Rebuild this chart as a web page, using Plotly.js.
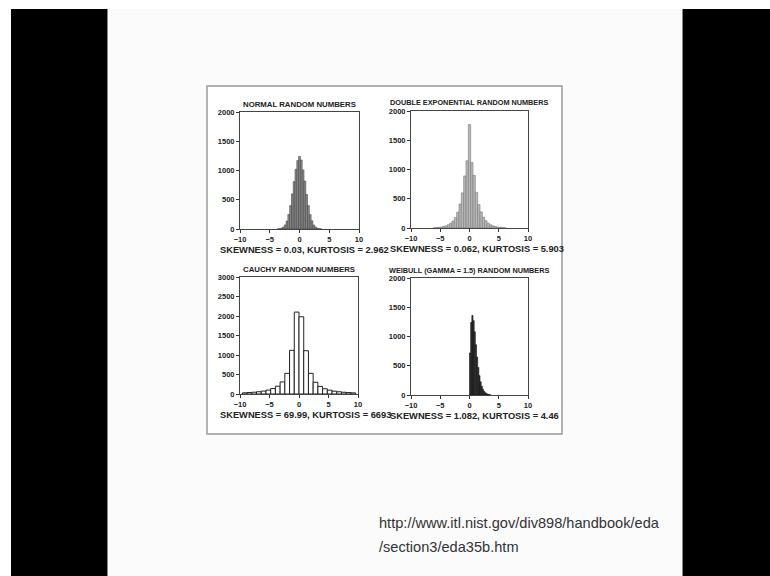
<!DOCTYPE html>
<html>
<head>
<meta charset="utf-8">
<script src="https://cdn.plot.ly/plotly-3.0.1.min.js"></script>
<style>html,body{margin:0;padding:0;background:#fff;}#chart{width:770px;height:576px;}</style>
</head>
<body>
<div id="chart"></div>
<script>
// ---- data ----
const panelTitles = ["NORMAL RANDOM NUMBERS", "DOUBLE EXPONENTIAL RANDOM NUMBERS",
                     "CAUCHY RANDOM NUMBERS", "WEIBULL (GAMMA = 1.5) RANDOM NUMBERS"];
const panelStats = ["SKEWNESS = 0.03, KURTOSIS = 2.962", "SKEWNESS = 0.062, KURTOSIS = 5.903",
                    "SKEWNESS = 69.99, KURTOSIS = 6693", "SKEWNESS = 1.082, KURTOSIS = 4.46"];
const sourceLines = ["http://www.itl.nist.gov/div898/handbook/eda", "/section3/eda35b.htm"];

const normalX = [-3.6,-3.3,-3.0,-2.7,-2.4,-2.1,-1.8,-1.5,-1.2,-0.9,-0.6,-0.3,0,0.3,0.6,0.9,1.2,1.5,1.8,2.1,2.4,2.7,3.0,3.3,3.6];
const normalY = [2,5,14,32,70,135,250,400,600,810,1020,1170,1240,1180,1010,820,590,400,245,140,68,33,14,6,2];

const dexpX = [-6.0,-5.6,-5.2,-4.8,-4.4,-4.0,-3.6,-3.2,-2.8,-2.4,-2.0,-1.6,-1.2,-0.8,-0.4,0,0.4,0.8,1.2,1.6,2.0,2.4,2.8,3.2,3.6,4.0,4.4,4.8,5.2,5.6,6.0];
const dexpY = [5,8,11,17,25,37,55,82,120,180,270,410,600,890,1150,1770,1120,900,610,400,275,185,125,80,56,38,26,18,12,8,5];

const cauchyX = [-9.2,-8.4,-7.6,-6.8,-6.0,-5.2,-4.4,-3.6,-2.8,-2.0,-1.2,-0.4,0.4,1.2,2.0,2.8,3.6,4.4,5.2,6.0,6.8,7.6,8.4,9.2];
const cauchyY = [30,38,46,58,75,100,140,200,310,530,1120,2100,1980,1110,530,300,195,135,98,72,57,45,37,29];

const weibullX = [0.1,0.3,0.5,0.7,0.9,1.1,1.3,1.5,1.7,1.9,2.1,2.3,2.5,2.7,2.9,3.1,3.3,3.5];
const weibullY = [720,1240,1360,1270,1080,860,650,470,330,225,150,98,62,40,25,15,9,5];

// ---- layout helpers (pixel -> paper) ----
const W = 770, H = 576;
const px = x => x / W;
const py = y => 1 - y / H;

const boxes = [
  {x0:240, x1:359, y0:112, y1:229},
  {x0:411, x1:528, y0:111, y1:228},
  {x0:240, x1:358, y0:277, y1:394},
  {x0:411, x1:528, y0:278, y1:395}
];

const seriesX = [normalX, dexpX, cauchyX, weibullX];
const seriesY = [normalY, dexpY, cauchyY, weibullY];
const widths = [0.3, 0.4, 0.8, 0.2];
const fills = ['#8e8e8e', '#b8b8b8', '#ffffff', '#3a3a3a'];
const edges = ['#444444', '#7a7a7a', '#222222', '#111111'];
const yMax = [2000, 2000, 3000, 2000];

const traces = [];
const layout = {
  width: W, height: H,
  margin: {l:0, r:0, t:0, b:0},
  paper_bgcolor: '#fbfbfb',
  plot_bgcolor: '#ffffff',
  showlegend: false,
  bargap: 0,
  shapes: [],
  annotations: []
};

const fam = 'Liberation Sans, Arial, sans-serif';
const tickFont = {family: fam, size: 7.5, color: '#222', weight: 700};

for (let i = 0; i < 4; i++) {
  const b = boxes[i];
  const n = i === 0 ? '' : String(i + 1);
  traces.push({
    type: 'bar', x: seriesX[i], y: seriesY[i], width: widths[i],
    xaxis: 'x' + n, yaxis: 'y' + n,
    marker: {color: fills[i], line: {color: edges[i], width: i === 2 ? 1 : 0.6}},
    hoverinfo: 'skip'
  });
  layout['xaxis' + n] = {
    domain: [px(b.x0), px(b.x1)], anchor: 'y' + n,
    range: [-10, 10], tickvals: [-10, -5, 0, 5, 10],
    ticks: 'outside', ticklen: 3, tickcolor: '#333',
    showline: true, linecolor: '#444', linewidth: 1, mirror: true,
    showgrid: false, zeroline: false, tickfont: tickFont, fixedrange: true
  };
  const yt = [];
  for (let v = 0; v <= yMax[i]; v += 500) yt.push(v);
  layout['yaxis' + n] = {
    domain: [py(b.y1), py(b.y0)], anchor: 'x' + n,
    range: [0, yMax[i]], tickvals: yt,
    ticks: 'outside', ticklen: 3, tickcolor: '#333',
    showline: true, linecolor: '#444', linewidth: 1, mirror: true,
    showgrid: false, zeroline: false, tickfont: tickFont, fixedrange: true
  };
  layout.annotations.push({
    xref: 'paper', yref: 'paper', x: px((b.x0 + b.x1) / 2), y: py(b.y0 - 8),
    text: panelTitles[i], showarrow: false, xanchor: 'center', yanchor: 'middle',
    font: {family: fam, size: i % 2 === 0 ? 7.8 : 7.3, color: '#222', weight: 700}
  });
  layout.annotations.push({
    xref: 'paper', yref: 'paper', x: px(i % 2 === 0 ? 218 : 388), y: py(b.y1 + 21),
    text: panelStats[i], showarrow: false, xanchor: 'left', yanchor: 'middle',
    font: {family: fam, size: 9.3, color: '#222', weight: 700}
  });
}

// slide frame: black side bars, top white strip
layout.shapes.push({type:'rect', xref:'paper', yref:'paper', x0:px(0), x1:px(W), y0:py(9), y1:1, fillcolor:'#ffffff', line:{width:0}, layer:'below'});
layout.shapes.push({type:'rect', xref:'paper', yref:'paper', x0:px(11), x1:px(107), y0:0, y1:py(9), fillcolor:'#000000', line:{width:0}, layer:'below'});
layout.shapes.push({type:'rect', xref:'paper', yref:'paper', x0:px(683), x1:1, y0:0, y1:py(9), fillcolor:'#000000', line:{width:0}, layer:'below'});
layout.shapes.push({type:'rect', xref:'paper', yref:'paper', x0:px(0), x1:px(11), y0:0, y1:py(9), fillcolor:'#ffffff', line:{width:0}, layer:'below'});
layout.shapes.push({type:'line', xref:'paper', yref:'paper', x0:px(107.5), x1:px(107.5), y0:0, y1:py(9), line:{color:'#888', width:1}, layer:'below'});
layout.shapes.push({type:'line', xref:'paper', yref:'paper', x0:px(682.5), x1:px(682.5), y0:0, y1:py(9), line:{color:'#888', width:1}, layer:'below'});
// figure outer border
layout.shapes.push({type:'rect', xref:'paper', yref:'paper', x0:px(207), x1:px(562), y0:py(434), y1:py(86), fillcolor:'#ffffff', line:{color:'#9a9a9a', width:1.5}, layer:'below'});

// source URL (two lines)
[523, 547].forEach((yy, k) => {
  layout.annotations.push({
    xref: 'paper', yref: 'paper', x: px(377), y: py(yy), text: sourceLines[k],
    showarrow: false, xanchor: 'left', yanchor: 'middle', align: 'left',
    font: {family: fam, size: 14.6, color: '#333'}
  });
});

Plotly.newPlot('chart', traces, layout, {displayModeBar: false, staticPlot: true});
</script>
</body>
</html>
